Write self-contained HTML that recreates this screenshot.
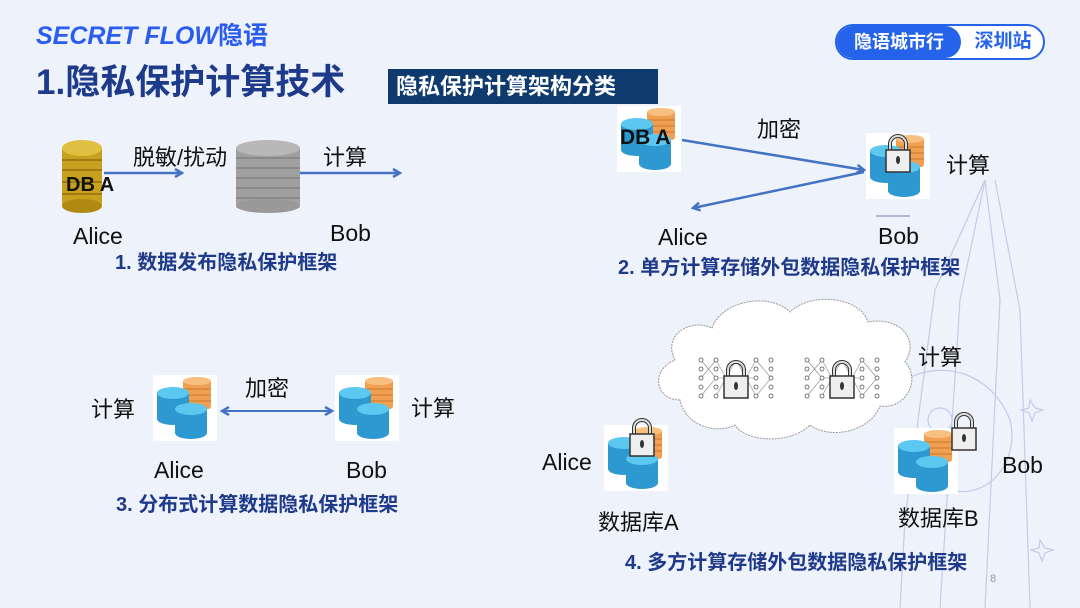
<!DOCTYPE html>
<html><head><meta charset="utf-8"><style>
body{margin:0;width:1080px;height:608px;overflow:hidden;background:#eef2fb;font-family:"Liberation Sans","Noto Sans CJK SC",sans-serif;position:relative}
.t{position:absolute;white-space:nowrap;color:#111;font-size:23px;line-height:1}
.c{font-size:22px}
.cap{position:absolute;white-space:nowrap;color:#1f3a8a;font-weight:bold;font-size:20px;line-height:1}
svg{position:absolute;left:0;top:0}
</style></head><body>
<svg width="1080" height="608" viewBox="0 0 1080 608">
<defs>
<marker id="ar" markerWidth="10" markerHeight="10" refX="8" refY="5" orient="auto" markerUnits="userSpaceOnUse"><path d="M1,1 L8,5 L1,9" fill="none" stroke="#4472c4" stroke-width="2.5"/></marker>
<marker id="al" markerWidth="10" markerHeight="10" refX="2" refY="5" orient="auto" markerUnits="userSpaceOnUse"><path d="M9,1 L2,5 L9,9" fill="none" stroke="#4472c4" stroke-width="2.5"/></marker>
<g id="db">
<rect x="0" y="0" width="64" height="66" fill="#fff"/>
<rect x="30" y="4" width="28" height="30" rx="3" fill="#f0a050"/>
<ellipse cx="44" cy="6" rx="14" ry="4" fill="#f7c080"/>
<path d="M30 14h28M30 20h28M30 26h28" stroke="#c87830" stroke-width="1"/>
<rect x="4" y="18" width="32" height="26" fill="#2e98d0"/>
<ellipse cx="20" cy="18" rx="16" ry="6" fill="#5cc8f0"/>
<ellipse cx="20" cy="44" rx="16" ry="6" fill="#2e98d0"/>
<rect x="22" y="34" width="32" height="24" fill="#2e98d0"/>
<ellipse cx="38" cy="34" rx="16" ry="6" fill="#5cc8f0"/>
<ellipse cx="38" cy="58" rx="16" ry="6" fill="#2e98d0"/>
</g>
<g id="lock">
<path d="M6 14v-6a8 8 0 0 1 16 0v6" fill="none" stroke="#333" stroke-width="4"/>
<path d="M6 14v-6a8 8 0 0 1 16 0v6" fill="none" stroke="#ddd" stroke-width="2"/>
<rect x="2" y="14" width="24" height="22" fill="#eee" stroke="#333" stroke-width="1.5"/>
<ellipse cx="14" cy="24" rx="2" ry="4" fill="#333"/>
</g>
<g id="net">
<rect x="0" y="0" width="90" height="52" fill="#fff"/>
<g fill="none" stroke="#888" stroke-width="0.6">
<path d="M10 8L25 26M10 26L25 8M10 44L25 26M25 8L45 44M25 44L45 8M45 8L65 44M45 44L65 8M65 8L80 26M65 44L80 26M25 26L65 26"/>
</g>
<g fill="#fff" stroke="#555" stroke-width="0.8">
<circle cx="10" cy="8" r="2"/><circle cx="10" cy="17" r="2"/><circle cx="10" cy="26" r="2"/><circle cx="10" cy="35" r="2"/><circle cx="10" cy="44" r="2"/>
<circle cx="25" cy="8" r="2"/><circle cx="25" cy="17" r="2"/><circle cx="25" cy="26" r="2"/><circle cx="25" cy="35" r="2"/><circle cx="25" cy="44" r="2"/>
<circle cx="65" cy="8" r="2"/><circle cx="65" cy="17" r="2"/><circle cx="65" cy="26" r="2"/><circle cx="65" cy="35" r="2"/><circle cx="65" cy="44" r="2"/>
<circle cx="80" cy="8" r="2"/><circle cx="80" cy="17" r="2"/><circle cx="80" cy="26" r="2"/><circle cx="80" cy="35" r="2"/><circle cx="80" cy="44" r="2"/>
</g>
<use href="#lock" x="31" y="10"/>
</g>
</defs>
<g fill="none" stroke="#b8c2e4" stroke-width="1.2" opacity="0.8">
<path d="M985 180L935 290L905 520L900 608M985 180L960 300L940 608M985 180L1000 300L985 608M995 180L1020 310L1030 608"/>
<path d="M905 380C940 360 990 370 1010 420C1020 460 990 500 950 490"/>
<circle cx="940" cy="420" r="12"/>
<path d="M1030 400l5 8 8 2-8 3-3 8-3-8-8-3 8-2z"/>
<path d="M1040 540l5 8 8 2-8 3-3 8-3-8-8-3 8-2z"/>
</g>
<g>
<rect x="62" y="148" width="40" height="58" fill="#c8a020"/>
<ellipse cx="82" cy="148" rx="20" ry="8" fill="#e0c040"/>
<ellipse cx="82" cy="206" rx="20" ry="7" fill="#b08a10"/>
<path d="M62 160h40M62 170h40M62 182h40M62 194h40" stroke="#a07c10" stroke-width="2"/>
<rect x="236" y="148" width="64" height="58" fill="#a0a0a0"/>
<ellipse cx="268" cy="148" rx="32" ry="8" fill="#b8b8b8"/>
<ellipse cx="268" cy="206" rx="32" ry="7" fill="#999"/>
<path d="M236 158h64M236 168h64M236 178h64M236 188h64M236 198h64" stroke="#8a8a8a" stroke-width="2"/>
<line x1="104" y1="173" x2="182" y2="173" stroke="#4472c4" stroke-width="2.5" marker-end="url(#ar)"/>
<line x1="300" y1="173" x2="400" y2="173" stroke="#4472c4" stroke-width="2.5" marker-end="url(#ar)"/>
</g>
<use href="#db" x="617" y="106"/>
<use href="#db" x="866" y="133"/>
<use href="#lock" x="884" y="136"/>
<line x1="682" y1="140" x2="864" y2="170" stroke="#4472c4" stroke-width="2.5" marker-end="url(#ar)"/>
<line x1="864" y1="172" x2="693" y2="208" stroke="#4472c4" stroke-width="2.5" marker-end="url(#ar)"/>
<line x1="876" y1="216" x2="910" y2="216" stroke="#9aa3c8" stroke-width="1.5"/>
<use href="#db" x="153" y="375"/>
<use href="#db" x="335" y="375"/>
<line x1="222" y1="411" x2="332" y2="411" stroke="#4472c4" stroke-width="2" marker-start="url(#al)" marker-end="url(#ar)"/>
<path d="M680 400C655 400 650 370 675 360C662 335 690 318 712 328C722 300 770 292 790 312C810 292 860 296 868 322C900 316 920 340 905 362C922 380 905 410 880 406C870 432 830 440 810 425C790 445 745 442 735 425C715 435 685 425 680 400Z" fill="#fff" stroke="#999" stroke-width="1" stroke-dasharray="2,1"/>
<use href="#net" x="691" y="352"/>
<use href="#net" x="797" y="352"/>
<use href="#db" x="604" y="425"/>
<use href="#lock" x="628" y="420"/>
<use href="#db" x="894" y="428"/>
<use href="#lock" x="950" y="414"/>
</svg>

<div class="t" style="left:36px;top:24px;font-size:25px;font-weight:bold;font-style:italic;color:#2b5cf0">SECRET FLOW<span style="font-style:normal">隐语</span></div>
<div style="position:absolute;left:835px;top:24px;width:206px;height:32px;border:2px solid #2563eb;border-radius:18px;overflow:hidden;background:#fff">
<div style="position:absolute;left:0;top:0;width:124px;height:32px;background:#2563eb;border-radius:0 18px 18px 0;color:#fff;font-weight:bold;font-size:18px;line-height:32px;text-align:center">隐语城市行</div>
<div style="position:absolute;left:128px;top:0;width:76px;height:32px;color:#2563eb;font-weight:bold;font-size:19px;line-height:32px;text-align:center">深圳站</div>
</div>
<div class="t" style="left:36px;top:65px;font-size:35px;font-weight:bold;color:#1e3a8a">1.隐私保护计算技术</div>
<div style="position:absolute;left:388px;top:69px;width:270px;height:35px;background:#0e3a6e;color:#fff;font-weight:bold;font-size:22px;line-height:35px;padding-left:8px;box-sizing:border-box">隐私保护计算架构分类</div>

<div class="t" style="left:66px;top:175px;font-size:20px;font-weight:bold">DB A</div>
<div class="t c" style="left:133px;top:147px">脱敏/扰动</div>
<div class="t c" style="left:323px;top:147px">计算</div>
<div class="t" style="left:73px;top:225px">Alice</div>
<div class="t" style="left:330px;top:222px">Bob</div>
<div class="cap" style="left:115px;top:253px">1. 数据发布隐私保护框架</div>

<div class="t" style="left:620px;top:127px;font-size:21px;font-weight:bold">DB A</div>
<div class="t c" style="left:757px;top:119px">加密</div>
<div class="t c" style="left:946px;top:155px">计算</div>
<div class="t" style="left:658px;top:226px">Alice</div>
<div class="t" style="left:878px;top:225px">Bob</div>
<div class="cap" style="left:618px;top:258px">2. 单方计算存储外包数据隐私保护框架</div>

<div class="t c" style="left:91px;top:399px">计算</div>
<div class="t c" style="left:245px;top:378px">加密</div>
<div class="t c" style="left:411px;top:398px">计算</div>
<div class="t" style="left:154px;top:459px">Alice</div>
<div class="t" style="left:346px;top:459px">Bob</div>
<div class="cap" style="left:116px;top:495px">3. 分布式计算数据隐私保护框架</div>

<div class="t c" style="left:918px;top:347px">计算</div>
<div class="t" style="left:542px;top:451px">Alice</div>
<div class="t" style="left:1002px;top:454px">Bob</div>
<div class="t c" style="left:598px;top:512px">数据库A</div>
<div class="t c" style="left:898px;top:508px">数据库B</div>
<div class="cap" style="left:625px;top:553px">4. 多方计算存储外包数据隐私保护框架</div>
<div class="t" style="left:990px;top:574px;font-size:11px;color:#999">8</div>
</body></html>
